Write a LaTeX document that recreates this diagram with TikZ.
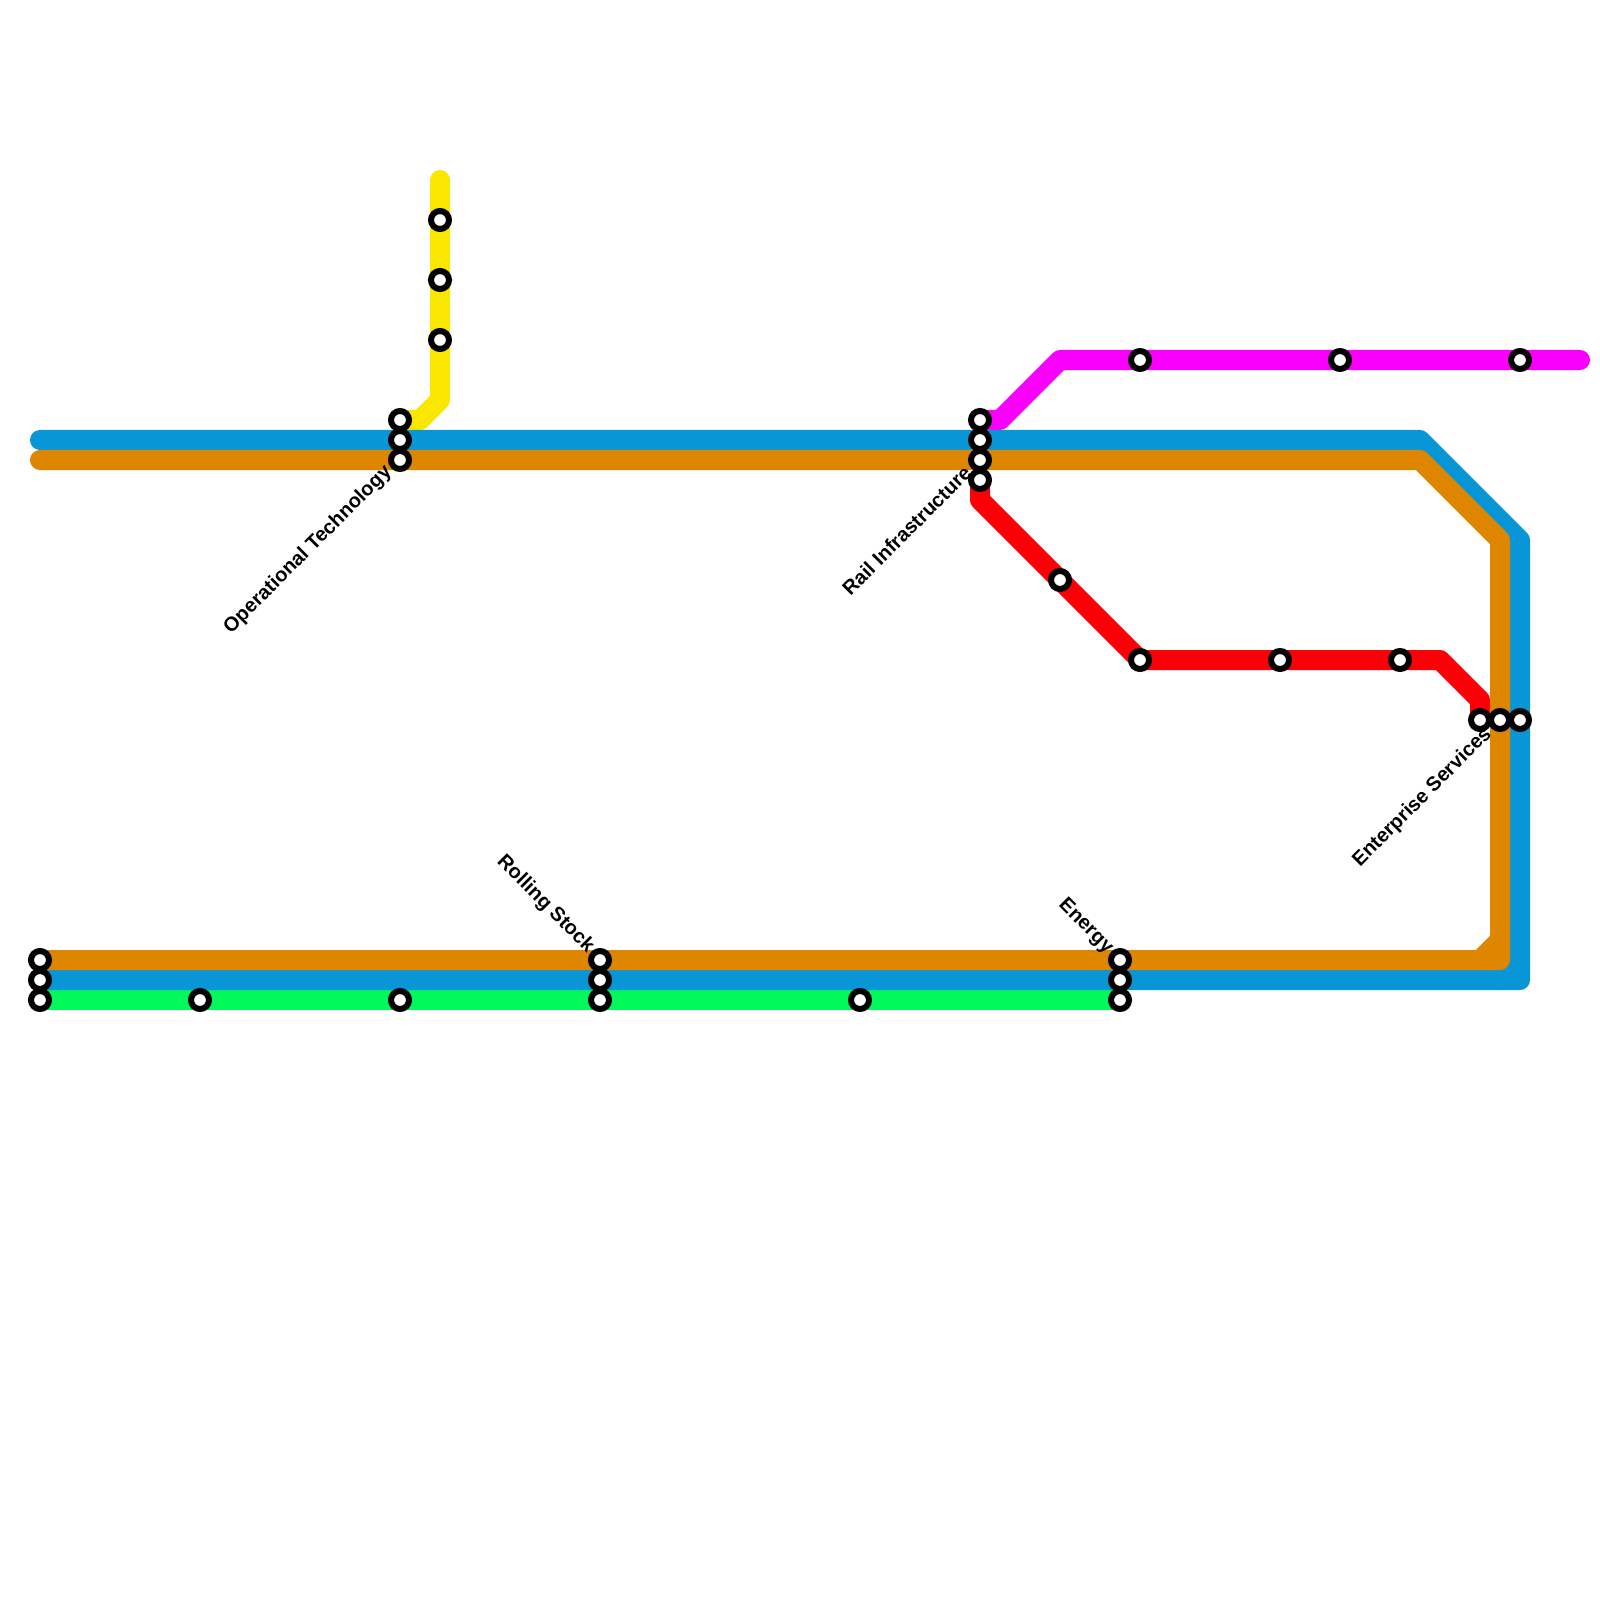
\documentclass[tikz,border=0pt]{standalone}
\usepackage{fontspec}
\setmainfont{Liberation Sans}
\usetikzlibrary{backgrounds}
\definecolor{lblue}{HTML}{0896D7}
\definecolor{lorange}{HTML}{DF8600}
\definecolor{lyellow}{HTML}{F9E700}
\definecolor{lmagenta}{HTML}{F800FC}
\definecolor{lred}{HTML}{FB0006}
\definecolor{lgreen}{HTML}{00F85A}
\tikzset{
  x=0.01cm,y=-0.01cm,
  stn/.style={circle,draw=black,fill=white,line width=0.06cm,minimum size=0.18cm,inner sep=0pt,outer sep=0pt},
  metro/.style={line width=0.2cm,line join=round,line cap=round},
  lbl/.style={inner sep=0pt,font=\fontsize{5.69pt}{6.5pt}\selectfont\bfseries,text=black},
  up/.style={lbl,anchor=east,rotate=45},
  down/.style={lbl,anchor=east,rotate=-45}
}
\begin{document}
\begin{tikzpicture}
\useasboundingbox (0,0) rectangle (1600,1600);
% stations
\foreach \n/\px/\py in {
 a1/40/960,a2/40/980,a3/40/1000,b/200/1000,
 c1/400/420,c2/400/440,c3/400/460,c4/400/1000,
 d1/440/220,d2/440/280,d3/440/340,
 e1/600/960,e2/600/980,e3/600/1000,f/860/1000,
 g1/980/420,g2/980/440,g3/980/460,g4/980/480,
 h/1060/580,i/1140/660,j/1280/660,k/1400/660,
 l1/1120/960,l2/1120/980,l3/1120/1000,
 m1/1140/360,m2/1340/360,m3/1520/360,
 n1/1480/720,n2/1500/720,n3/1520/720}
 \node[stn] (\n) at (\px,\py) {};
% bends and free ends
\coordinate (ys) at (440,180);
\coordinate (yb1) at (440,400);
\coordinate (yb2) at (420,420);
\coordinate (ms) at (1000,420);
\coordinate (mb) at (1060,360);
\coordinate (me) at (1580,360);
\coordinate (rb1) at (980,500);
\coordinate (rb2) at (1440,660);
\coordinate (rb3) at (1480,700);
\coordinate (bs) at (40,440);
\coordinate (bb1) at (1420,440);
\coordinate (bb2) at (1520,540);
\coordinate (bb3) at (1520,980);
\coordinate (bb4) at (1520,960);
\coordinate (bb5) at (1500,980);
\coordinate (os) at (40,460);
\coordinate (ob1) at (1420,460);
\coordinate (ob2) at (1500,540);
\coordinate (ob3) at (1500,940);
\coordinate (ob4) at (1500,960);
\coordinate (ob5) at (1480,960);
\begin{scope}[on background layer]
\fill[white] (0,0) rectangle (1600,1600);
\draw[metro,lgreen] (a3.center) -- (b.center) -- (c4.center) -- (e3.center) -- (f.center) -- (l3.center);
\draw[metro,lyellow] (ys) -- (d1.center) -- (d2.center) -- (d3.center) -- (yb1) -- (yb2) -- (c1.center);
\draw[metro,lmagenta] (g1.center) -- (ms) -- (mb) -- (m1.center) -- (m2.center) -- (m3.center) -- (me);
\draw[metro,lred] (g4.center) -- (rb1) -- (i.center) -- (j.center) -- (k.center) -- (rb2) -- (rb3) -- (n1.center);
\draw[metro,lblue] (bs) -- (c2.center) -- (g2.center) -- (bb1) -- (bb2) -- (n3.center) -- (bb3) -- (l2.center) -- (e2.center) -- (a2.center);
\draw[metro,lblue] (bb4) -- (bb5);
\draw[metro,lorange] (os) -- (c3.center) -- (g3.center) -- (ob1) -- (ob2) -- (n2.center) -- (ob3) -- (ob4) -- (l1.center) -- (e1.center) -- (a1.center);
\draw[metro,lorange] (ob3) -- (ob5);
\end{scope}
% labels
\node[up] (t1) at (389,469) {Operational Technology};
\node[up] (t2) at (968,469) {Rail Infrastructure};
\node[up] (t3) at (1489,731) {Enterprise Services};
\node[down] (t4) at (591,950) {Rolling Stock};
\node[down] (t5) at (1110,951) {Energy};
\end{tikzpicture}
\end{document}
